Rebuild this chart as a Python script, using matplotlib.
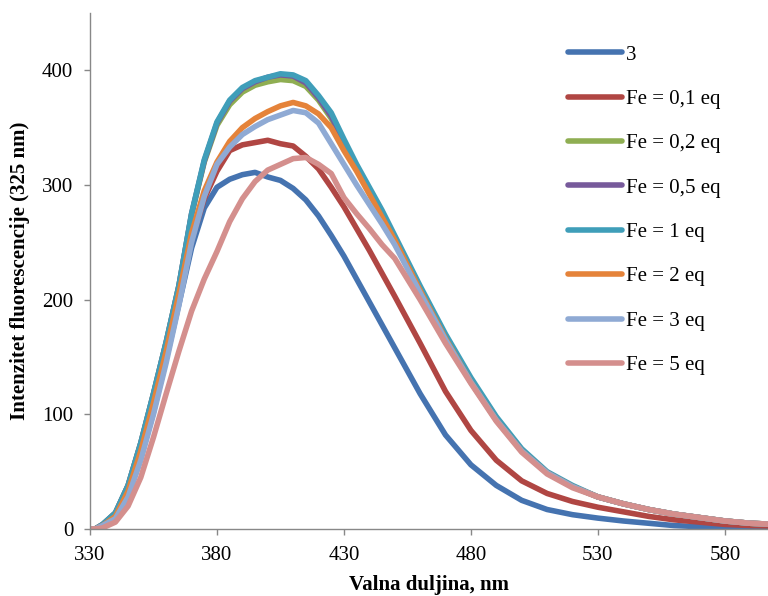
import numpy as np
import matplotlib
matplotlib.use('Agg')
import matplotlib.pyplot as plt

plt.rcParams['font.family'] = ['Liberation Serif', 'DejaVu Serif']

# valna duljina (nm)
wl = [330, 332, 335, 340, 345, 350, 355, 360, 365, 370, 375, 380, 385, 390,
      395, 400, 405, 410, 415, 420, 425, 430, 435, 440, 445, 450, 460, 470,
      480, 490, 500, 510, 520, 530, 540, 550, 560, 570, 580, 590, 600]

# intenzitet fluorescencije
s_3 = [0, 0, 3, 9, 29, 62, 102, 148, 196, 245, 280, 298, 305, 309,
       311, 307, 304, 297, 287, 273, 256, 238, 218, 198, 178, 158, 118, 82,
       56, 38, 25, 17, 12.5, 9.5, 7, 5, 3, 2, 1, 0.5, 0]
s_01 = [0, 0, 3, 10, 30, 64, 105, 150, 200, 252, 288, 312, 330, 335,
        337, 339, 336, 334, 325, 314, 298, 281, 262, 243, 223, 203, 162, 120,
        86, 60, 42, 31, 24, 19, 15, 11, 8, 6, 4, 3, 2.5]
s_02 = [0, 0, 4, 14, 38, 75, 118, 163, 212, 274, 320, 352, 370, 381,
        387, 390, 392, 391, 386, 374, 358, 336, 315, 295, 275, 253, 209, 168,
        130, 96, 69, 49, 37, 28, 22, 17, 13, 10, 7, 5, 4]
s_05 = [0, 0, 4, 14, 38, 75, 118, 163, 212, 275, 321, 354, 373, 384,
        390, 394, 396, 395, 389, 376, 360, 338, 316, 296, 276, 254, 210, 168,
        130, 97, 69, 49, 37, 28, 22, 17, 13, 10, 7, 5, 4]
s_1 = [0, 0, 4, 14, 38, 75, 118, 163, 212, 275, 322, 355, 374, 385,
       391, 394, 397, 396, 391, 378, 363, 340, 318, 298, 278, 256, 212, 170,
       132, 98, 70, 50, 38, 28, 22, 17, 13, 10, 7, 5, 4]
s_2 = [0, 0, 3, 11, 33, 68, 110, 155, 205, 258, 295, 320, 338, 350,
       358, 364, 369, 372, 369, 362, 350, 330, 312, 292, 272, 252, 208, 166,
       128, 95, 68, 49, 37, 28, 22, 17, 13, 10, 7, 5, 4]
s_3eq = [0, 0, 3, 9, 28, 60, 100, 145, 195, 250, 290, 318, 333, 344,
         351, 357, 361, 365, 363, 354, 336, 318, 300, 283, 266, 248, 206, 165,
         128, 95, 68, 49, 37, 28, 22, 17, 13, 10, 7, 5, 4]
s_5 = [0, 0, 1, 6, 20, 45, 80, 118, 155, 190, 218, 242, 268, 288,
       303, 313, 318, 323, 324, 318, 310, 289, 275, 262, 248, 236, 200, 162,
       127, 94, 67, 48, 36, 28, 22, 17, 13, 10, 7, 5, 4]

labels = ['3', 'Fe = 0,1 eq', 'Fe = 0,2 eq', 'Fe = 0,5 eq', 'Fe = 1 eq',
          'Fe = 2 eq', 'Fe = 3 eq', 'Fe = 5 eq']
colors = ['#4573B0', '#B04643', '#8FAE52', '#775A9B', '#3F9EB9',
          '#E5833A', '#8FAAD4', '#D48F8D']
series = [s_3, s_01, s_02, s_05, s_1, s_2, s_3eq, s_5]

fig = plt.figure(figsize=(7.68, 5.96), dpi=100)
ax = fig.add_axes([90/768, 1 - 529/596, 678/768, 516/596])

for y, c, lab in zip(series, colors, labels):
    ax.plot(wl, y, color=c, linewidth=4, label=lab, solid_capstyle='round')

ax.set_xlim(330, 597)
ax.set_ylim(0, 450)
ax.set_xticks(range(330, 581, 50))
ax.set_yticks(range(0, 401, 100))

for side in ['top', 'right']:
    ax.spines[side].set_visible(False)
for side in ['left', 'bottom']:
    ax.spines[side].set_color('#888888')
    ax.spines[side].set_linewidth(1)
ax.tick_params(direction='out', length=4, width=1, color='#888888',
               labelsize=15, pad=8)

ax.set_xlabel('Valna duljina, nm', fontsize=15, fontweight='bold')
ax.set_ylabel('Intenzitet fluorescencije (325 nm)', fontsize=15,
              fontweight='bold')
ax.xaxis.set_label_coords(0.5, -0.108)
ax.xaxis.label.set_verticalalignment('center')
ax.yaxis.set_label_coords(-0.103, 0.5)
ax.yaxis.label.set_verticalalignment('center')

ax.legend(loc='upper left', bbox_to_anchor=(568/768, 1 - 45/596),
          bbox_transform=fig.transFigure, frameon=False, fontsize=15,
          handlelength=2.6, handletextpad=0.2, labelspacing=1.19,
          borderpad=0, borderaxespad=0)

fig.savefig('out.png', dpi=100)
